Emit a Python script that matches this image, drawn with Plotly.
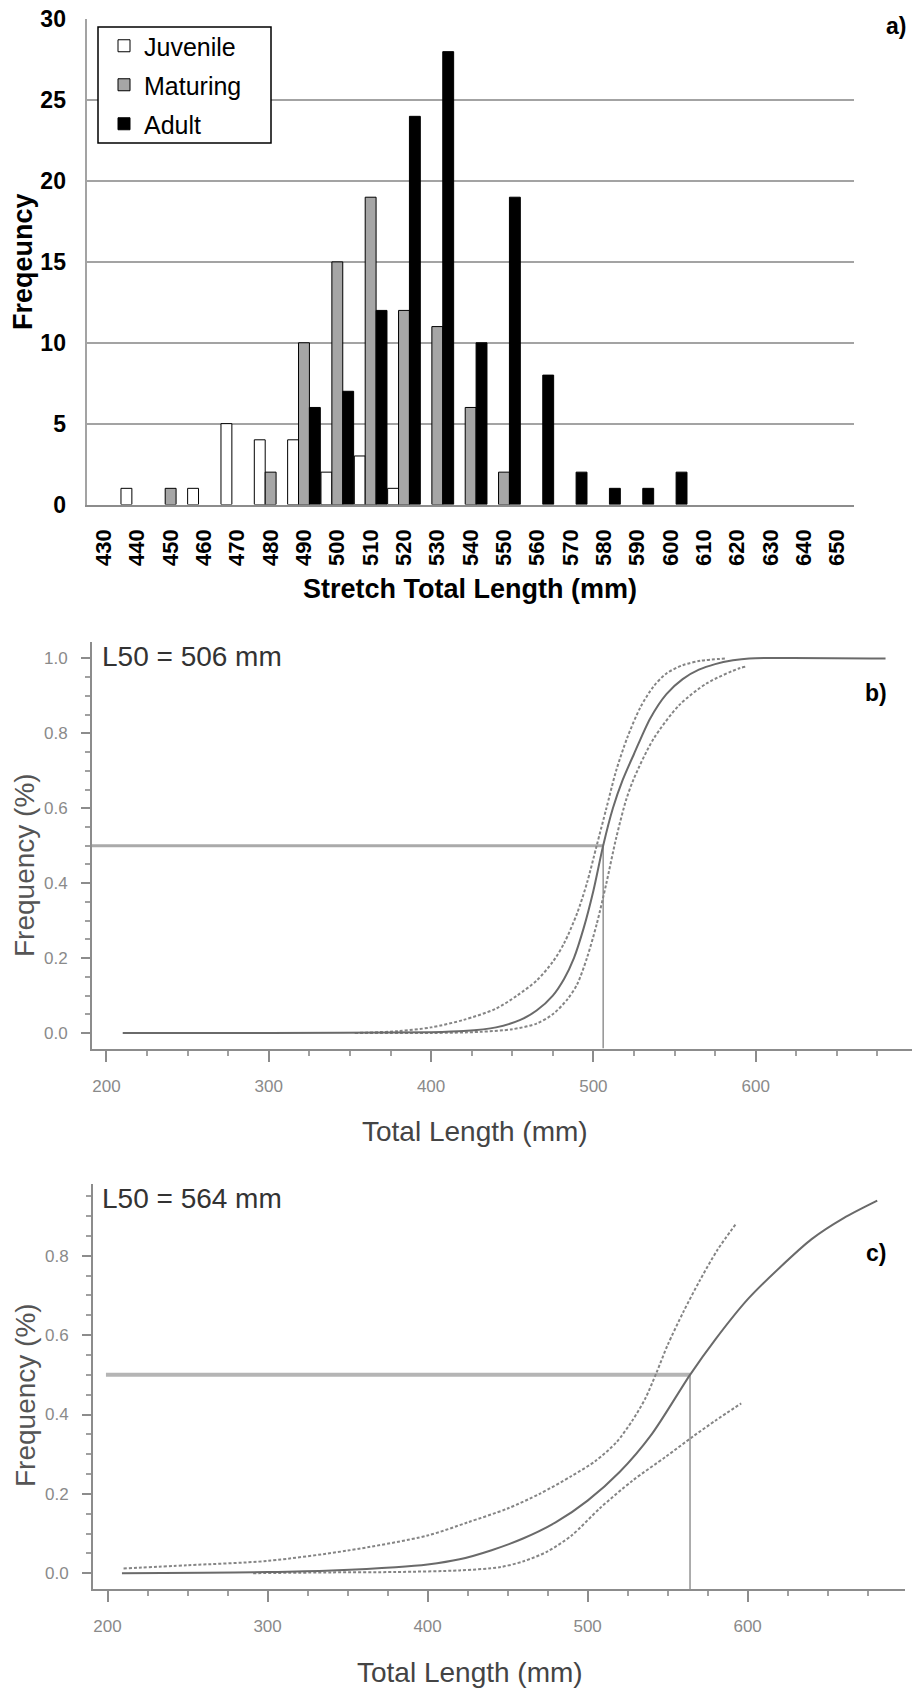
import plotly.graph_objects as go

# ---------------- data: panel a (histogram) ----------------
categories = ['430', '440', '450', '460', '470', '480', '490', '500', '510', '520', '530', '540',
              '550', '560', '570', '580', '590', '600', '610', '620', '630', '640', '650']
juvenile = [0, 1, 0, 1, 5, 4, 4, 2, 3, 1, 0, 0, 0, 0, 0, 0, 0, 0, 0, 0, 0, 0, 0]
maturing = [0, 0, 1, 0, 0, 2, 10, 15, 19, 12, 11, 6, 2, 0, 0, 0, 0, 0, 0, 0, 0, 0, 0]
adult = [0, 0, 0, 0, 0, 0, 6, 7, 12, 24, 28, 10, 19, 8, 2, 1, 1, 2, 0, 0, 0, 0, 0]

# ---------------- data: panel b (maturity ogive) ----------------
L50_B = 506
b_fit_x = [210, 300, 400, 420, 440, 455, 465, 475, 482, 488, 494, 500, 506, 512, 518, 525, 535,
           545, 555, 565, 575, 586, 596, 680]
b_fit_y = [0, 0, 0.002, 0.005, 0.015, 0.035, 0.06, 0.1, 0.145, 0.2, 0.28, 0.38, 0.5, 0.6, 0.675,
           0.745, 0.84, 0.905, 0.945, 0.97, 0.985, 0.995, 1.0, 1.0]
b_up_x = [353, 380, 400, 420, 440, 453, 465, 475, 482, 490, 496, 502, 508, 514, 521, 529, 537,
          545, 555, 566, 582]
b_up_y = [0, 0.005, 0.015, 0.035, 0.065, 0.1, 0.14, 0.19, 0.24, 0.32, 0.4, 0.5, 0.6, 0.7, 0.79,
          0.87, 0.925, 0.96, 0.982, 0.994, 1.0]
b_lo_x = [353, 400, 430, 450, 465, 475, 484, 490, 496, 502, 508, 514, 520, 525, 537, 553, 570,
          590, 594]
b_lo_y = [0, 0.0, 0.003, 0.01, 0.025, 0.05, 0.09, 0.13, 0.2, 0.29, 0.4, 0.52, 0.62, 0.68, 0.785,
          0.876, 0.934, 0.974, 0.978]

# ---------------- data: panel c ----------------
L50_C = 564
c_fit_x = [209, 260, 300, 340, 380, 400, 420, 440, 460, 480, 500, 520, 540, 564, 580, 600, 620,
           640, 660, 681]
c_fit_y = [0, 0.001, 0.003, 0.007, 0.015, 0.022, 0.035, 0.058, 0.088, 0.128, 0.183, 0.255, 0.35,
           0.5, 0.59, 0.69, 0.77, 0.842, 0.895, 0.939]
c_up_x = [210, 250, 300, 350, 400, 425, 450, 470, 490, 505, 518, 528, 536, 543, 550, 560, 570,
          581, 593]
c_up_y = [0.012, 0.02, 0.031, 0.057, 0.095, 0.128, 0.163, 0.2, 0.245, 0.283, 0.33, 0.385, 0.44,
          0.505, 0.575, 0.66, 0.737, 0.814, 0.882]
c_lo_x = [291, 340, 380, 420, 445, 460, 475, 490, 508, 528, 549, 566, 580, 596]
c_lo_y = [0, 0.002, 0.003, 0.007, 0.015, 0.03, 0.055, 0.095, 0.165, 0.233, 0.294, 0.345, 0.385,
          0.428]

W, H = 912, 1690
FONT = "Liberation Sans, Arial, sans-serif"


def py(px):
    return 1 - px / H


def pxx(px):
    return px / W


fig = go.Figure()

# ---- panel a bars ----
def nz(v):
    return [x if x else None for x in v]

for name, vals, col, grp in [("Juvenile", juvenile, "white", "g1"),
                             ("Maturing", maturing, "#a6a6a6", "g2"),
                             ("Adult", adult, "black", "g3")]:
    fig.add_trace(go.Bar(x=categories, y=nz(vals), name=name, legendgroup=grp,
                         marker=dict(color=col, line=dict(color="black", width=1)),
                         xaxis="x", yaxis="y"))

DASH = "3px,2px"
DCOL = "#858585"

# ---- panel b ----
XB = [191.07, 696.3]
YB = [-0.0414, 1.044]
fig.add_trace(go.Scatter(x=[XB[0], L50_B], y=[0.5, 0.5], mode="lines",
                         line=dict(color="#aaaaaa", width=3), xaxis="x2", yaxis="y2",
                         showlegend=False))
fig.add_trace(go.Scatter(x=[L50_B, L50_B], y=[0.5, YB[0]], mode="lines",
                         line=dict(color="#777777", width=1.2), xaxis="x2", yaxis="y2",
                         showlegend=False))
for xs, ys, dash, col, w in [(b_up_x, b_up_y, DASH, DCOL, 2),
                             (b_lo_x, b_lo_y, DASH, DCOL, 2),
                             (b_fit_x, b_fit_y, "solid", "#6a6a6a", 2)]:
    fig.add_trace(go.Scatter(x=xs, y=ys, mode="lines",
                             line=dict(color=col, width=w, dash=dash, shape="spline", smoothing=0.8),
                             xaxis="x2", yaxis="y2", showlegend=False))

# ---- panel c ----
XC = [190.9, 698.1]
YC = [-0.0396, 0.982]
fig.add_trace(go.Scatter(x=[199, L50_C], y=[0.5, 0.5], mode="lines",
                         line=dict(color="#b5b5b5", width=4), xaxis="x3", yaxis="y3",
                         showlegend=False))
fig.add_trace(go.Scatter(x=[L50_C, L50_C], y=[0.5, YC[0]], mode="lines",
                         line=dict(color="#777777", width=1.2), xaxis="x3", yaxis="y3",
                         showlegend=False))
for xs, ys, dash, col, w in [(c_up_x, c_up_y, DASH, DCOL, 2),
                             (c_lo_x, c_lo_y, DASH, DCOL, 2),
                             (c_fit_x, c_fit_y, "solid", "#6a6a6a", 2)]:
    fig.add_trace(go.Scatter(x=xs, y=ys, mode="lines",
                             line=dict(color=col, width=w, dash=dash, shape="spline", smoothing=0.8),
                             xaxis="x3", yaxis="y3", showlegend=False))

bold = dict(family=FONT, size=23, color="black", weight="bold")
boldx = dict(family=FONT, size=22, color="black", weight="bold")
gray_tick = dict(family=FONT, size=17, color="#8a8a8a")

curve_x = dict(showline=True, linecolor="#8c8c8c", linewidth=2, ticks="outside", ticklen=11,
               tickwidth=1.5, tickcolor="#8c8c8c", tick0=0, dtick=100, showgrid=False,
               zeroline=False, tickfont=gray_tick, ticklabelstandoff=10, automargin=False,
               minor=dict(ticks="outside", ticklen=5, dtick=25, tick0=0, tickcolor="#a0a0a0",
                          tickwidth=1.5, showgrid=False))
curve_y = dict(showline=True, linecolor="#8c8c8c", linewidth=2, ticks="outside", ticklen=9,
               tickwidth=1.5, tickcolor="#8c8c8c", tick0=0, dtick=0.2, tickformat=".1f",
               showgrid=False, zeroline=False, tickfont=gray_tick, ticklabelstandoff=10,
               automargin=False,
               minor=dict(ticks="outside", ticklen=5, dtick=0.05, tick0=0, tickcolor="#a0a0a0",
                          tickwidth=1.5, showgrid=False))

fig.update_layout(
    width=W, height=H, margin=dict(l=0, r=0, t=0, b=0, pad=0, autoexpand=False),
    paper_bgcolor="white", plot_bgcolor="white",
    barmode="group", bargap=0.02, bargroupgap=0,
    font=dict(family=FONT),
    xaxis=dict(domain=[pxx(87.3), pxx(854)], type="category", anchor="y", automargin=False,
               tickangle=-90, tickfont=boldx, showline=True, linecolor="#8c8c8c", linewidth=2,
               ticks="", ticklabelstandoff=14, showgrid=False, zeroline=False,
               range=[-0.5, len(categories) - 0.5]),
    yaxis=dict(domain=[py(504.5), py(19.3)], range=[0, 30], dtick=5, anchor="x",
               automargin=False,
               tickfont=bold, showgrid=True, gridcolor="#a3a3a3", gridwidth=1.5,
               showline=True, linecolor="#a3a3a3", linewidth=1.5, zeroline=False,
               ticks="", ticklabelstandoff=15),
    xaxis2=dict(domain=[pxx(92), 1.0], range=XB, anchor="y2", **curve_x),
    yaxis2=dict(domain=[py(1048.5), py(642)], range=YB, anchor="x2", **curve_y),
    xaxis3=dict(domain=[pxx(93), pxx(904.6)], range=XC, anchor="y3", **curve_x),
    yaxis3=dict(domain=[py(1588.9), py(1183.6)], range=YC, anchor="x3", **curve_y),
    legend=dict(x=pxx(104), y=py(23), xanchor="left", yanchor="top",
                borderwidth=0, bgcolor="rgba(0,0,0,0)",
                font=dict(family=FONT, size=25, color="black"),
                traceorder="grouped", tracegroupgap=3.5),
    shapes=[dict(type="rect", xref="paper", yref="paper", x0=pxx(98), x1=pxx(271),
                 y0=py(143), y1=py(27), line=dict(color="black", width=1.5),
                 fillcolor="white", layer="above")],
)

ann = []
# panel a texts
ann.append(dict(text="Freqeuncy", x=pxx(23), y=py(262), textangle=-90, font=dict(family=FONT, size=27, color="black", weight="bold")))
ann.append(dict(text="Stretch Total Length (mm)", x=pxx(470), y=py(589), font=dict(family=FONT, size=27, color="black", weight="bold")))
ann.append(dict(text="a)", x=pxx(896), y=py(26), font=dict(family=FONT, size=23, color="black", weight="bold")))
# panel b texts
ann.append(dict(text=f"L50 = {L50_B} mm", x=pxx(100), y=py(656), xanchor="left", font=dict(family=FONT, size=28, color="#333333")))
ann.append(dict(text="b)", x=pxx(876), y=py(693), font=dict(family=FONT, size=23, color="black", weight="bold")))
ann.append(dict(text="Frequency (%)", x=pxx(25), y=py(865), textangle=-90, font=dict(family=FONT, size=28, color="#555555")))
ann.append(dict(text="Total Length (mm)", x=pxx(475), y=py(1131), font=dict(family=FONT, size=28, color="#444444")))
# panel c texts
ann.append(dict(text=f"L50 = {L50_C} mm", x=pxx(100), y=py(1198), xanchor="left", font=dict(family=FONT, size=28, color="#333333")))
ann.append(dict(text="c)", x=pxx(876), y=py(1253), font=dict(family=FONT, size=23, color="black", weight="bold")))
ann.append(dict(text="Frequency (%)", x=pxx(25), y=py(1395), textangle=-90, font=dict(family=FONT, size=28, color="#555555")))
ann.append(dict(text="Total Length (mm)", x=pxx(470), y=py(1672), font=dict(family=FONT, size=28, color="#444444")))

for a in ann:
    a.setdefault("xanchor", "center")
    a.update(xref="paper", yref="paper", yanchor="middle", showarrow=False)
fig.update_layout(annotations=ann)

fig.write_html("out.html")
